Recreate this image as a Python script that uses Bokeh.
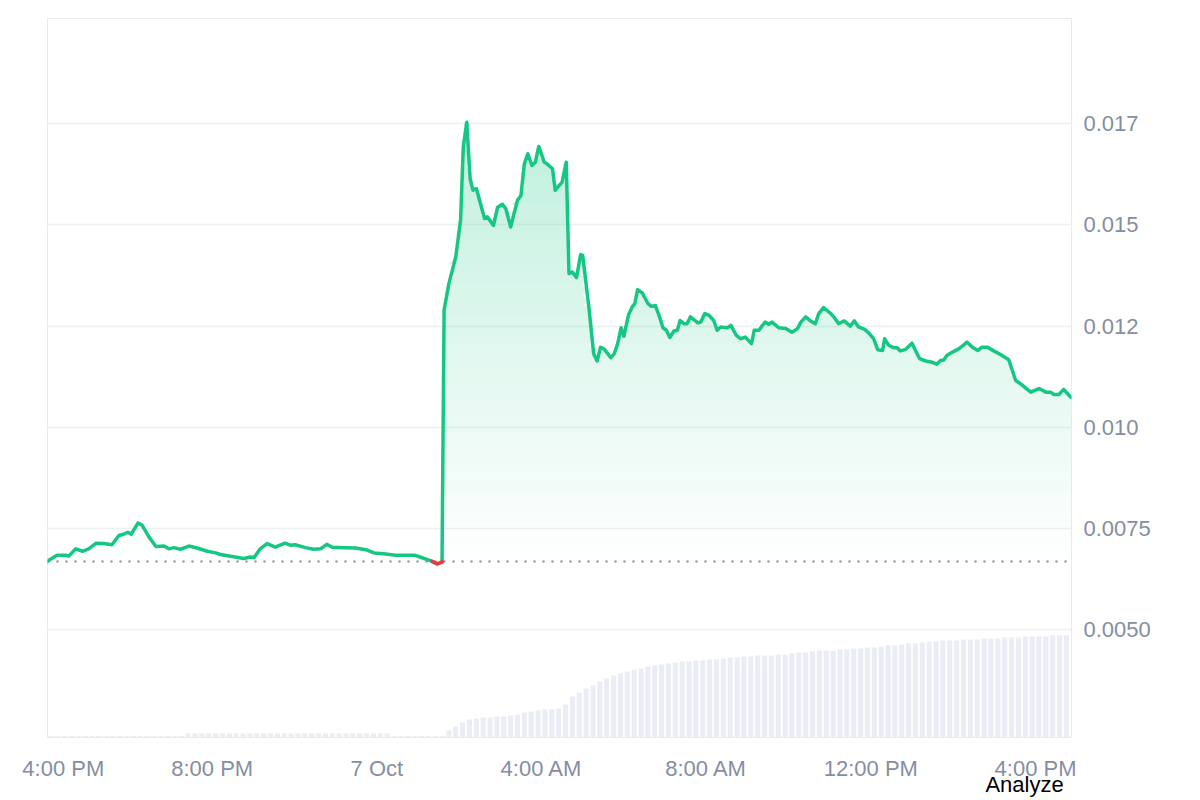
import numpy as np
from bokeh.plotting import figure
from bokeh.models import Range1d, FixedTicker, Span, LinearAxis
from bokeh.embed import file_html
from bokeh.resources import INLINE

# ---------------- data ----------------
# minutes since 4:00 PM (6 Oct)
times = [0, 2, 14, 26, 31, 41, 51, 60, 71, 82, 94, 104, 111, 117, 122, 132, 138, 148, 158, 170,
         177, 184, 194, 206, 218, 233, 245, 252, 269, 286, 296, 301, 310, 320, 332, 346, 354, 361, 376, 388,
         398, 407, 415, 432, 449, 464, 476, 490, 507, 524, 536, 546, 558, 568, 575, 578, 585, 595, 602, 606,
         611, 616, 620, 625, 631, 637, 641, 650, 656, 663, 668, 675, 685, 690, 695, 700, 706, 711, 716, 724,
         728, 736, 740, 750, 756, 760, 765, 771, 777, 780, 789, 796, 801, 806, 811, 821, 826, 831, 836, 840,
         847, 852, 856, 860, 867, 875, 880, 886, 892, 897, 902, 907, 913, 918, 922, 928, 932, 937, 948, 952,
         958, 964, 971, 976, 981, 991, 996, 1004, 1010, 1017, 1026, 1030, 1037, 1042, 1046, 1051, 1056, 1066, 1076, 1085,
         1093, 1098, 1105, 1112, 1119, 1124, 1131, 1141, 1146, 1153, 1161, 1170, 1176, 1182, 1191, 1197, 1204, 1210, 1217, 1220,
         1226, 1233, 1238, 1243, 1250, 1260, 1265, 1271, 1280, 1289, 1296, 1302, 1306, 1311, 1319, 1328, 1335, 1340, 1348, 1356,
         1362, 1370, 1379, 1389, 1401, 1411, 1421, 1433, 1445, 1455, 1462, 1467, 1474, 1481, 1490, 1492]

prices = [0.00669, 0.00672, 0.00684, 0.00684, 0.00682, 0.00700, 0.00694, 0.00700, 0.00714, 0.00713,
          0.00710, 0.00733, 0.00736, 0.00741, 0.00736, 0.00764, 0.00758, 0.00729, 0.00706, 0.00707,
          0.00700, 0.00703, 0.00699, 0.00707, 0.00702, 0.00694, 0.00690, 0.00686, 0.00681, 0.00676,
          0.00680, 0.00678, 0.00700, 0.00713, 0.00704, 0.00714, 0.00709, 0.00710, 0.00703, 0.00699,
          0.00700, 0.00711, 0.00704, 0.00703, 0.00702, 0.00698, 0.00690, 0.00688, 0.00684, 0.00684,
          0.00684, 0.00678, 0.00671, 0.00663, 0.00667, 0.01290, 0.01355, 0.01421, 0.01511, 0.01693,
          0.01754, 0.01614, 0.01586, 0.01590, 0.01553, 0.01516, 0.01520, 0.01499, 0.01544, 0.01551,
          0.01540, 0.01495, 0.01561, 0.01573, 0.01651, 0.01676, 0.01647, 0.01655, 0.01694, 0.01655,
          0.01651, 0.01639, 0.01586, 0.01606, 0.01655, 0.01380, 0.01384, 0.01370, 0.01427, 0.01425,
          0.01297, 0.01182, 0.01164, 0.01198, 0.01194, 0.01172, 0.01182, 0.01207, 0.01246, 0.01225,
          0.01279, 0.01297, 0.01306, 0.01340, 0.01332, 0.01306, 0.01299, 0.01301, 0.01273, 0.01246,
          0.01240, 0.01222, 0.01238, 0.01240, 0.01264, 0.01256, 0.01256, 0.01273, 0.01258, 0.01260,
          0.01281, 0.01277, 0.01264, 0.01240, 0.01248, 0.01246, 0.01252, 0.01227, 0.01219, 0.01223,
          0.01207, 0.01240, 0.01240, 0.01252, 0.01260, 0.01255, 0.01260, 0.01246, 0.01244, 0.01235,
          0.01244, 0.01260, 0.01273, 0.01263, 0.01256, 0.01281, 0.01296, 0.01282, 0.01273, 0.01256,
          0.01263, 0.01250, 0.01263, 0.01248, 0.01242, 0.01233, 0.01219, 0.01192, 0.01190, 0.01219,
          0.01203, 0.01197, 0.01197, 0.01189, 0.01192, 0.01208, 0.01190, 0.01170, 0.01164, 0.01161,
          0.01156, 0.01166, 0.01166, 0.01178, 0.01186, 0.01194, 0.01203, 0.01211, 0.01198, 0.01190,
          0.01198, 0.01198, 0.01189, 0.01180, 0.01167, 0.01116, 0.01104, 0.01087, 0.01096, 0.01087,
          0.01087, 0.01081, 0.01081, 0.01094, 0.01077, 0.01074]

# volume per 10-minute slot (thousand USD), slot i starts at 10*i minutes
volume_k = [1.5, 1.5, 1.5, 1.5, 1.5, 1.5, 1.5, 1.5, 1.5, 1.5,
            1.5, 1.5, 1.5, 1.5, 1.5, 1.5, 1.5, 1.5, 1.5, 1.5,
            4, 4, 4, 4, 4, 4, 4, 4, 4, 4,
            4, 4, 4, 4, 4, 4, 4, 4, 4, 4,
            4, 4, 4, 4, 4, 4, 4, 4, 4, 4,
            1.5, 1.5, 1.5, 1.5, 1.5, 1.5, 1.5, 1.5,
            7, 11, 15, 18, 19, 20, 20, 21, 21, 22,
            23, 25, 26, 27, 28, 28, 29, 33, 41, 45,
            49, 52, 56, 59, 62, 64, 66, 68, 69, 71,
            72, 73, 74, 75, 76, 76, 77, 77, 78, 78,
            79, 80, 80, 81, 81, 82, 82, 82, 83, 83,
            84, 85, 85, 86, 87, 87, 87, 88, 88, 89,
            89, 90, 90, 91, 92, 92, 93, 94, 94, 95,
            96, 96, 97, 97, 97, 98, 98, 98, 99, 99,
            99, 100, 100, 100, 101, 101, 101, 101, 102, 102,
            102]

x_tick_minutes = [23, 240, 480, 720, 960, 1200, 1440]
x_tick_labels = ["4:00 PM", "8:00 PM", "7 Oct", "4:00 AM", "8:00 AM", "12:00 PM", "4:00 PM"]
y_ticks = [0.005, 0.0075, 0.010, 0.0125, 0.015, 0.0175]
y_tick_labels = ["0.0050", "0.0075", "0.010", "0.012", "0.015", "0.017"]
analyze_at = [1424]
analyze_label = ["Analyze"]

# ---------------- styling ----------------
GREEN = "#16c784"
RED = "#ea3943"
GRAY_TXT = "#858ea0"
FONT = "Liberation Sans"

t = np.array(times, dtype=float)
pr = np.array(prices, dtype=float)
base = prices[0]

p = figure(width=1200, height=800, output_backend="svg", toolbar_location=None,
           x_range=Range1d(0, 1492.4), y_range=Range1d(0.00234, 0.0201),
           y_axis_location="right", min_border_left=47, min_border_right=129,
           min_border_top=18, min_border_bottom=63, tools="")
p.background_fill_color = "white"
p.border_fill_color = "white"
p.outline_line_color = "#e8eaee"
p.outline_line_width = 1

# volume bars
p.extra_y_ranges = {"vol": Range1d(0, 719)}
vol_x = np.arange(len(volume_k)) * 10 + 5
p.vbar(x=vol_x, top=volume_k, width=7.5, bottom=0, y_range_name="vol",
       fill_color="#eaeef4", line_color=None)

# baseline dotted
span = Span(location=base, dimension="width", line_color="#858585", line_dash="2 7",
            line_width=2, level="underlay")
p.add_layout(span)

# vertical gradient fill: non-overlapping horizontal bands of increasing opacity
N = 45
edges = np.linspace(base, 0.0177, N + 1)
for lo, hi in zip(edges[:-1], edges[1:]):
    mid = 0.5 * (lo + hi)
    a = 0.27 * (mid - base) / (0.0175 - base)
    p.varea(x=t, y1=np.full_like(pr, lo), y2=np.clip(pr, lo, hi),
            fill_color=GREEN, fill_alpha=a)

# red fill below baseline
p.varea(x=t, y1=np.minimum(pr, base), y2=np.full_like(pr, base), fill_color=RED, fill_alpha=0.12)

# price line
p.line(t, pr, line_color=GREEN, line_width=3.5, line_join="round", line_cap="round")

# red part of the line (below baseline)
rx, ry = [], []
for i in range(len(t) - 1):
    t0, t1, p0, p1 = t[i], t[i + 1], pr[i], pr[i + 1]
    if p0 >= base and p1 >= base:
        continue
    if p0 < base and p1 < base:
        seg = [(t0, p0), (t1, p1)]
    elif p0 < base:
        tc = t0 + (base - p0) / (p1 - p0) * (t1 - t0)
        seg = [(t0, p0), (tc, base)]
    else:
        tc = t0 + (base - p0) / (p1 - p0) * (t1 - t0)
        seg = [(tc, base), (t1, p1)]
    for sx, sy in seg:
        rx.append(sx)
        ry.append(sy)
    rx.append(np.nan)
    ry.append(np.nan)
p.line(rx, ry, line_color=RED, line_width=3.5, line_join="round", line_cap="round")

# grid
p.xgrid.visible = False
p.ygrid.ticker = FixedTicker(ticks=y_ticks)
p.ygrid.grid_line_color = "#eef0f3"
p.ygrid.grid_line_width = 1.5

# axes
p.yaxis.ticker = FixedTicker(ticks=y_ticks)
p.yaxis.major_label_overrides = {v: s for v, s in zip(y_ticks, y_tick_labels)}
p.xaxis.ticker = FixedTicker(ticks=x_tick_minutes)
p.xaxis.major_label_overrides = {v: s for v, s in zip(x_tick_minutes, x_tick_labels)}

# second bottom axis carrying the "Analyze" text
ax2 = LinearAxis(ticker=FixedTicker(ticks=analyze_at),
                 major_label_overrides={v: s for v, s in zip(analyze_at, analyze_label)})
p.add_layout(ax2, "below")

for ax in (p.xaxis[0], p.yaxis[0], ax2):
    ax.axis_line_color = None
    ax.major_tick_line_color = None
    ax.minor_tick_line_color = None
    ax.major_tick_out = 0
    ax.major_tick_in = 0
    ax.major_label_text_font = FONT
    ax.major_label_text_font_size = "22px"
    ax.major_label_text_color = GRAY_TXT
p.yaxis.major_label_standoff = 12
p.xaxis[0].major_label_standoff = 18
ax2.major_label_standoff = -12
ax2.major_label_text_color = "black"

open("out.html", "w").write(file_html(p, INLINE))
